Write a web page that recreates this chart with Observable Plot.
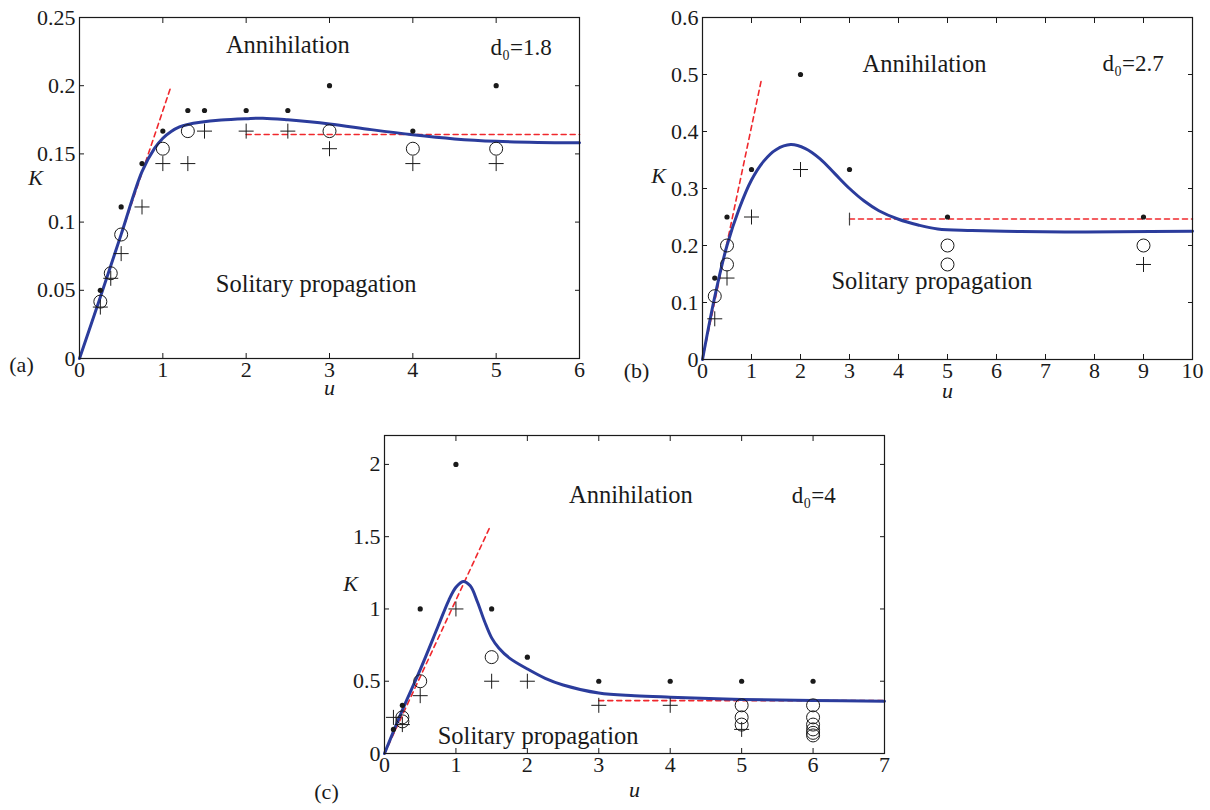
<!DOCTYPE html>
<html><head><meta charset="utf-8">
<script src="https://cdn.jsdelivr.net/npm/d3@7"></script>
<script src="https://cdn.jsdelivr.net/npm/@observablehq/plot@0.6"></script>
<style>
body{margin:0;background:#fff;}
#root{position:relative;width:1210px;height:810px;overflow:hidden;background:#fff;}
.panel{position:absolute;}
.panel svg{overflow:visible;background:transparent;}
</style></head><body><div id="root"></div>
<script>
// ---------- Panel (a): d0 = 1.8 ----------
const aXTicks = [0, 1, 2, 3, 4, 5, 6];
const aYTicks = [0, 0.05, 0.1, 0.15, 0.2, 0.25];
const aDots = [[0.25,0.05],[0.5,0.1111],[0.75,0.1429],[1,0.1667],[1.3,0.1818],[1.5,0.1818],[2,0.1818],[2.5,0.1818],[3,0.2],[4,0.1667],[5,0.2]];
const aCircles = [[0.25,0.0417],[0.375,0.0625],[0.5,0.0909],[1,0.1538],[1.3,0.1667],[3,0.1667],[4,0.1538],[5,0.1538]];
const aPluses = [[0.25,0.0377],[0.375,0.0588],[0.5,0.0769],[0.75,0.1111],[1,0.1429],[1.3,0.1429],[1.5,0.1667],[2,0.1667],[2.5,0.1667],[3,0.1538],[4,0.1429],[5,0.1429]];
const aCurveU = [0, 0.25, 0.5, 0.75, 0.9, 1.0, 1.1, 1.2, 1.3, 1.45, 1.7, 2.0, 2.2, 2.5, 3.0, 3.5, 4.0, 4.5, 5.0, 5.5, 6.0];
const aCurveK = [0, 0.045, 0.091, 0.137, 0.154, 0.1615, 0.1665, 0.1698, 0.1716, 0.1732, 0.1748, 0.1758, 0.1762, 0.1750, 0.1720, 0.1678, 0.1640, 0.1610, 0.1592, 0.1584, 0.1581];
const aRedSlope = [[0, 0], [1.09, 0.198]];
const aRedFlat = [[2, 0.1642], [6, 0.1642]];
const aTexts = [["Annihilation", 2.5, 0.2299], ["Solitary propagation", 2.84, 0.0546]];
const aTag = [["d\u2080=1.8", 5.3, 0.2276]];

// ---------- Panel (b): d0 = 2.7 ----------
const bXTicks = [0, 1, 2, 3, 4, 5, 6, 7, 8, 9, 10];
const bYTicks = [0, 0.1, 0.2, 0.3, 0.4, 0.5, 0.6];
const bDots = [[0.25,0.1429],[0.5,0.25],[1,0.3333],[2,0.5],[3,0.3333],[5,0.25],[9,0.25]];
const bCircles = [[0.25,0.1111],[0.5,0.2],[0.5,0.1667],[5,0.2],[5,0.1667],[9,0.2]];
const bPluses = [[0.25,0.0714],[0.5,0.1429],[1,0.25],[2,0.3333],[9,0.1667]];
const bCurveU = [0, 0.25, 0.5, 0.75, 1.0, 1.25, 1.5, 1.8, 2.1, 2.4, 2.7, 3.0, 3.3, 3.6, 4.0, 4.4, 4.8, 5.5, 6.5, 7.5, 8.5, 10];
const bCurveK = [0, 0.11, 0.2, 0.265, 0.315, 0.348, 0.368, 0.377, 0.37, 0.352, 0.326, 0.3, 0.278, 0.261, 0.246, 0.236, 0.229, 0.2265, 0.2245, 0.2235, 0.224, 0.225];
const bRedSlope = [[0, 0], [1.2, 0.49]];
const bRedFlat = [[3, 0.2465], [10, 0.2465]];
const bStart = [[3, 0.2465]];
const bTexts = [["Annihilation", 4.53, 0.519], ["Solitary propagation", 4.68, 0.1377]];
const bTag = [["d\u2080=2.7", 8.79, 0.519]];

// ---------- Panel (c): d0 = 4 ----------
const cXTicks = [0, 1, 2, 3, 4, 5, 6, 7];
const cYTicks = [0, 0.5, 1, 1.5, 2];
const cDots = [[0.125,0.1667],[0.25,0.3333],[0.5,1],[1,2],[1.5,1],[2,0.6667],[3,0.5],[4,0.5],[5,0.5],[6,0.5]];
const cCircles = [[0.25,0.25],[0.25,0.2222],[0.5,0.5],[1.5,0.6667],[5,0.3333],[5,0.25],[5,0.2],[6,0.3333],[6,0.25],[6,0.2],[6,0.1667],[6,0.1429],[6,0.125]];
const cPluses = [[0.125,0.25],[0.25,0.2],[0.5,0.4],[1,1],[1.5,0.5],[2,0.5],[3,0.3333],[4,0.3333],[5,0.1667]];
const cCurveU = [0, 0.25, 0.5, 0.75, 0.9, 1.0, 1.1, 1.2, 1.3, 1.4, 1.5, 1.6, 1.75, 2.0, 2.25, 2.5, 3.0, 3.5, 4, 5, 6, 7];
const cCurveK = [0, 0.3, 0.58, 0.88, 1.06, 1.15, 1.19, 1.16, 1.05, 0.915, 0.80, 0.73, 0.66, 0.585, 0.52, 0.474, 0.418, 0.4, 0.39, 0.374, 0.367, 0.362];
const cRedSlope = [[0, 0], [1.47, 1.56]];
const cRedFlat = [[3, 0.366], [7, 0.366]];
const cTexts = [["Annihilation", 3.45, 1.789], ["Solitary propagation", 2.15, 0.121]];
const cTag = [["d\u2080=4", 6.01, 1.785]];

const BLUE = "#2b3c9c";
const RED = "#f0282d";
const INK = "#1a1a1a";
const FONT = "'Liberation Serif', 'Times New Roman', serif";

function panel(cfg) {
  const xy = {x: d => d[0], y: d => d[1]};
  const curve = cfg.curveU.map((u, i) => [u, cfg.curveK[i]]);
  const fmt = d => String(d);
  const marks = [
    Plot.line(cfg.redSlope, {...xy, stroke: RED, strokeWidth: 1.6, strokeDasharray: "5,4"}),
    Plot.line(cfg.redFlat, {...xy, stroke: RED, strokeWidth: 1.6, strokeDasharray: "5,4"}),
    Plot.line(curve, {...xy, stroke: BLUE, strokeWidth: 3, curve: "catmull-rom"}),
    Plot.dot(cfg.circles, {...xy, r: 6.5, stroke: INK, fill: "none", strokeWidth: 1}),
    Plot.dot(cfg.pluses, {...xy, symbol: "plus", r: 4.9, stroke: INK, strokeWidth: 1}),
    Plot.dot(cfg.dots, {...xy, r: 2.6, fill: INK, stroke: "none"}),
    Plot.text(cfg.texts, {x: d => d[1], y: d => d[2], text: d => d[0], fontSize: 24.5, fill: INK, textAnchor: "middle", lineAnchor: "middle"}),
    Plot.text(cfg.tagText, {x: d => d[1], y: d => d[2], text: d => d[0], fontSize: 23, fill: INK, textAnchor: "middle", lineAnchor: "middle"}),
    Plot.frame({stroke: INK, strokeWidth: 1.2}),
    Plot.axisX({ticks: cfg.xTicks, tickSize: 0, tickPadding: 3, tickFormat: fmt, fontSize: 22, fill: INK, label: null}),
    Plot.axisX({ticks: cfg.xTicks, tickSize: -5, fill: "none", stroke: INK}),
    Plot.axisX({anchor: "top", ticks: cfg.xTicks, tickSize: -5, fill: "none", stroke: INK}),
    Plot.axisY({ticks: cfg.yTicks, tickSize: 0, tickPadding: 4, tickFormat: fmt, fontSize: 22, fill: INK, label: null}),
    Plot.axisY({ticks: cfg.yTicks, tickSize: -5, fill: "none", stroke: INK}),
    Plot.axisY({anchor: "right", ticks: cfg.yTicks, tickSize: -5, fill: "none", stroke: INK}),
    Plot.text(["K"], {text: d => d, frameAnchor: "left", dx: cfg.kdx, dy: cfg.kdy, fontSize: 22, fontStyle: "italic", fill: INK, textAnchor: "middle"}),
    Plot.text(["u"], {text: d => d, frameAnchor: "bottom", dy: cfg.udy, fontSize: 22, fontStyle: "italic", fill: INK, textAnchor: "middle"}),
    Plot.text([cfg.tag], {text: d => d, frameAnchor: "bottom-left", dx: cfg.tdx, dy: cfg.tdy, fontSize: 22, fill: INK, textAnchor: "middle"})
  ];
  if (cfg.extra) marks.push(cfg.extra);
  const chart = Plot.plot({
    width: cfg.width, height: cfg.height,
    marginLeft: cfg.ml, marginRight: cfg.mr, marginTop: cfg.mt, marginBottom: cfg.mb,
    x: {domain: cfg.xDomain},
    y: {domain: cfg.yDomain},
    style: {fontFamily: FONT, background: "transparent", color: INK},
    marks
  });
  const div = document.createElement("div");
  div.className = "panel";
  div.style.left = cfg.left + "px";
  div.style.top = cfg.top + "px";
  div.appendChild(chart);
  document.getElementById("root").appendChild(div);
}

const tickShape = {draw(ctx, l) { ctx.moveTo(0, -l / 2); ctx.lineTo(0, l / 2); }};

panel({left: 0, top: 0, width: 600, height: 400, ml: 79, mr: 21, mt: 17, mb: 42,
  xDomain: [0, 6], yDomain: [0, 0.25], xTicks: aXTicks, yTicks: aYTicks,
  dots: aDots, circles: aCircles, pluses: aPluses, curveU: aCurveU, curveK: aCurveK,
  redSlope: aRedSlope, redFlat: aRedFlat, texts: aTexts, tagText: aTag,
  kdx: -44, kdy: -10, udy: 36, tag: "(a)", tdx: -58, tdy: 13});

panel({left: 610, top: 0, width: 600, height: 400, ml: 92, mr: 18, mt: 17, mb: 41,
  xDomain: [0, 10], yDomain: [0, 0.6], xTicks: bXTicks, yTicks: bYTicks,
  dots: bDots, circles: bCircles, pluses: bPluses, curveU: bCurveU, curveK: bCurveK,
  redSlope: bRedSlope, redFlat: bRedFlat, texts: bTexts, tagText: bTag,
  kdx: -44, kdy: -13, udy: 38, tag: "(b)", tdx: -66, tdy: 18,
  extra: Plot.vector(bStart, {x: d => d[0], y: d => d[1], length: 12, rotate: 0, anchor: "start", shape: tickShape, stroke: "#444", strokeWidth: 1.2})});

panel({left: 290, top: 410, width: 610, height: 400, ml: 94, mr: 16, mt: 25, mb: 57,
  xDomain: [0, 7], yDomain: [0, 2.2], xTicks: cXTicks, yTicks: cYTicks,
  dots: cDots, circles: cCircles, pluses: cPluses, curveU: cCurveU, curveK: cCurveK,
  redSlope: cRedSlope, redFlat: cRedFlat, texts: cTexts, tagText: cTag,
  kdx: -34, kdy: -11, udy: 43, tag: "(c)", tdx: -58, tdy: 45});
</script></body></html>
